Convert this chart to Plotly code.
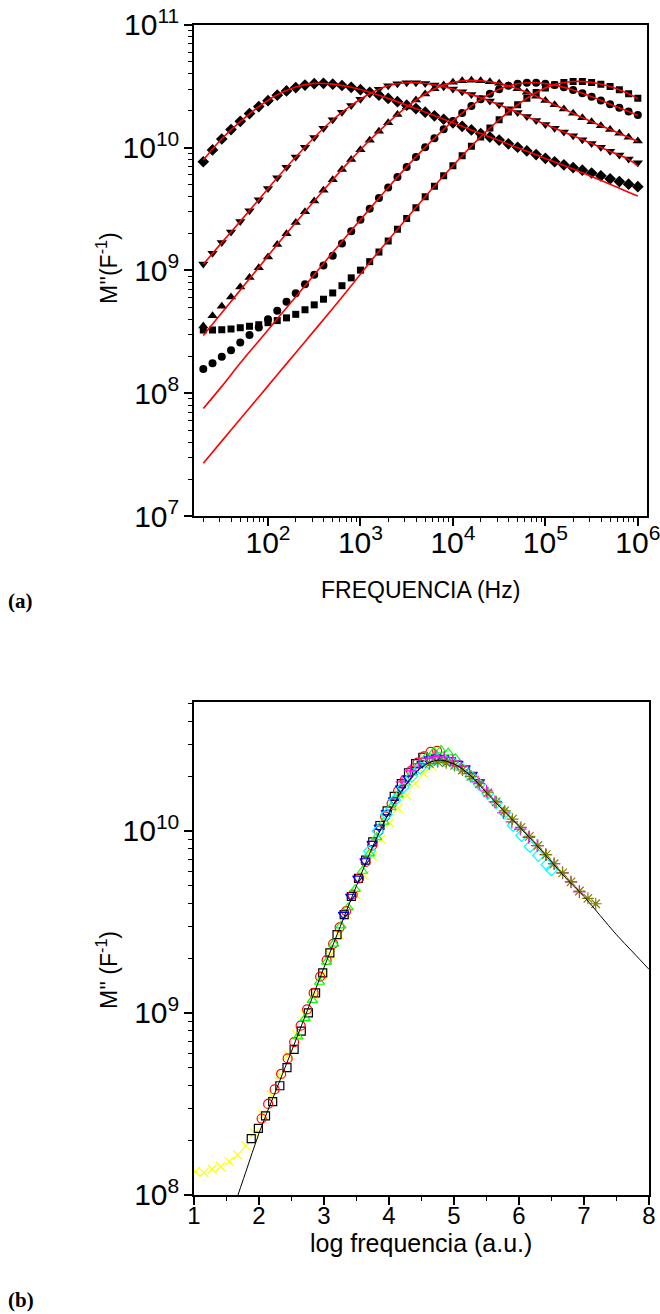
import plotly.graph_objects as go

# ---------------- (a) M'' versus frequency, five temperatures ----------------
log_freq = [1.3, 1.4, 1.5, 1.6, 1.7, 1.8, 1.9, 2.0, 2.1, 2.2, 2.3, 2.4, 2.5, 2.6, 2.7, 2.8,
            2.9, 3.0, 3.1, 3.2, 3.3, 3.4, 3.5, 3.6, 3.7, 3.8, 3.9, 4.0, 4.1, 4.2, 4.3, 4.4,
            4.5, 4.6, 4.7, 4.8, 4.9, 5.0, 5.1, 5.2, 5.3, 5.4, 5.5, 5.6, 5.7, 5.8, 5.9, 6.0]

# log10 of M'' (F^-1) for each temperature
log_m_square = [8.515, 8.515, 8.517, 8.523, 8.533, 8.545, 8.558, 8.575, 8.592, 8.614, 8.643, 8.68,
                8.72, 8.766, 8.817, 8.876, 8.94, 9.003, 9.072, 9.15, 9.24, 9.335, 9.424, 9.512,
                9.60, 9.686, 9.771, 9.854, 9.935, 10.013, 10.088, 10.16, 10.228, 10.292, 10.35, 10.404,
                10.45, 10.487, 10.514, 10.531, 10.539, 10.539, 10.532, 10.518, 10.498, 10.472, 10.44, 10.403]
log_m_circle = [8.198, 8.244, 8.298, 8.35, 8.413, 8.475, 8.535, 8.602, 8.673, 8.746, 8.815, 8.888,
                8.965, 9.04, 9.12, 9.22, 9.32, 9.413, 9.502, 9.59, 9.676, 9.761, 9.844, 9.925,
                10.003, 10.078, 10.15, 10.218, 10.282, 10.34, 10.394, 10.44, 10.477, 10.504, 10.521, 10.529,
                10.529, 10.522, 10.51, 10.492, 10.47, 10.443, 10.415, 10.385, 10.355, 10.325, 10.296, 10.267]
log_m_tri_up = [8.548, 8.632, 8.708, 8.785, 8.866, 8.942, 9.022, 9.11, 9.211, 9.30, 9.39, 9.478,
                9.566, 9.653, 9.739, 9.823, 9.905, 9.984, 10.061, 10.134, 10.204, 10.27, 10.332, 10.388,
                10.438, 10.48, 10.512, 10.534, 10.546, 10.55, 10.546, 10.538, 10.525, 10.505, 10.48, 10.452,
                10.42, 10.385, 10.35, 10.315, 10.28, 10.245, 10.212, 10.18, 10.148, 10.117, 10.086, 10.055]
log_m_tri_down = [9.053, 9.14, 9.227, 9.314, 9.40, 9.487, 9.577, 9.667, 9.755, 9.84, 9.925, 10.004,
                  10.083, 10.158, 10.228, 10.29, 10.345, 10.394, 10.44, 10.477, 10.504, 10.521, 10.529, 10.529,
                  10.523, 10.512, 10.497, 10.478, 10.457, 10.433, 10.407, 10.38, 10.35, 10.318, 10.286, 10.254,
                  10.222, 10.19, 10.159, 10.128, 10.097, 10.066, 10.035, 10.004, 9.972, 9.94, 9.909, 9.878]
log_m_diamond = [9.886, 9.982, 10.071, 10.148, 10.215, 10.278, 10.335, 10.383, 10.428, 10.463, 10.49, 10.51,
                 10.522, 10.525, 10.518, 10.507, 10.492, 10.473, 10.452, 10.428, 10.402, 10.375, 10.347, 10.319,
                 10.29, 10.26, 10.232, 10.203, 10.174, 10.145, 10.115, 10.087, 10.062, 10.032, 10.004, 9.974,
                 9.944, 9.914, 9.886, 9.861, 9.838, 9.817, 9.794, 9.771, 9.747, 9.724, 9.703, 9.683]

# fitted curves (log10 M'')
log_freq_fit = [1.3, 1.5, 1.7, 1.9, 2.1, 2.3, 2.5, 2.7, 2.9, 3.1, 3.3, 3.5, 3.7,
                3.9, 4.1, 4.3, 4.5, 4.7, 4.9, 5.1, 5.3, 5.5, 5.7, 5.9, 6.0]
fit_square = [7.43, 7.61, 7.79, 7.97, 8.15, 8.33, 8.51, 8.69, 8.875, 9.066, 9.246, 9.424, 9.60,
              9.771, 9.935, 10.088, 10.228, 10.35, 10.45, 10.514, 10.539, 10.532, 10.498, 10.44, 10.40]
fit_circle = [7.875, 8.056, 8.246, 8.426, 8.606, 8.786, 8.966, 9.146, 9.325, 9.502, 9.676, 9.844, 10.003,
              10.15, 10.282, 10.394, 10.477, 10.521, 10.529, 10.51, 10.47, 10.415, 10.355, 10.296, 10.265]
fit_tri_up = [8.47, 8.655, 8.84, 9.025, 9.211, 9.39, 9.566, 9.739, 9.905, 10.061, 10.204, 10.332, 10.438,
              10.512, 10.546, 10.546, 10.525, 10.48, 10.42, 10.35, 10.28, 10.212, 10.148, 10.086, 10.05]
fit_tri_down = [9.05, 9.227, 9.40, 9.577, 9.755, 9.925, 10.083, 10.228, 10.345, 10.44, 10.504, 10.529, 10.523,
                10.497, 10.457, 10.407, 10.35, 10.286, 10.222, 10.159, 10.097, 10.035, 9.97, 9.905, 9.85]
fit_diamond = [9.90, 10.073, 10.213, 10.335, 10.432, 10.495, 10.524, 10.518, 10.492, 10.452, 10.402, 10.347, 10.29,
               10.232, 10.174, 10.115, 10.058, 10.0, 9.942, 9.884, 9.826, 9.765, 9.702, 9.638, 9.607]

# ---------------- (b) master curve ----------------
# (log frequency in a.u., log10 M'')
x_yellow = [1.02, 1.15, 1.28, 1.41, 1.54, 1.67, 1.80, 1.93, 2.06, 2.19, 2.32, 2.45, 2.58, 2.71, 2.84,
            2.97, 3.10, 3.23, 3.36, 3.49, 3.62, 3.75, 3.88, 4.01, 4.14, 4.27, 4.40, 4.53, 4.66]
y_yellow = [8.128, 8.123, 8.141, 8.155, 8.183, 8.22, 8.27, 8.34, 8.44, 8.55, 8.66, 8.77, 8.88, 8.99, 9.10,
            9.21, 9.32, 9.43, 9.54, 9.65, 9.755, 9.86, 9.955, 10.045, 10.125, 10.195, 10.26, 10.315, 10.355]
x_black = [1.88, 1.99, 2.10, 2.21, 2.32, 2.43, 2.54, 2.65, 2.76, 2.87, 2.98, 3.09, 3.20, 3.31, 3.42,
           3.53, 3.64, 3.75, 3.86, 3.97, 4.08, 4.19, 4.30, 4.41, 4.52]
y_black = [8.31, 8.366, 8.434, 8.513, 8.60, 8.70, 8.80, 8.90, 9.00, 9.11, 9.22, 9.33, 9.43, 9.54, 9.64,
           9.74, 9.84, 9.94, 10.03, 10.11, 10.19, 10.26, 10.32, 10.37, 10.405]
x_red = [2.04, 2.14, 2.24, 2.34, 2.44, 2.54, 2.64, 2.74, 2.84, 2.94, 3.04, 3.14, 3.24, 3.34, 3.44,
         3.54, 3.64, 3.74, 3.84, 3.94, 4.04, 4.14, 4.24, 4.34, 4.44, 4.54, 4.64, 4.74]
y_red = [8.42, 8.50, 8.58, 8.665, 8.75, 8.84, 8.93, 9.02, 9.11, 9.20, 9.29, 9.38, 9.47, 9.56, 9.65,
         9.74, 9.83, 9.92, 10.00, 10.08, 10.15, 10.22, 10.28, 10.33, 10.375, 10.41, 10.435, 10.44]
x_green = [2.60, 2.71, 2.82, 2.93, 3.04, 3.15, 3.26, 3.37, 3.48, 3.59, 3.70, 3.81, 3.92, 4.03, 4.14,
           4.25, 4.36, 4.47, 4.58, 4.69, 4.80, 4.91, 5.02]
y_green = [8.87, 8.97, 9.07, 9.17, 9.28, 9.38, 9.48, 9.58, 9.68, 9.78, 9.875, 9.965, 10.05, 10.13, 10.20,
           10.265, 10.32, 10.37, 10.41, 10.435, 10.445, 10.43, 10.40]
x_blue = [3.30, 3.41, 3.52, 3.63, 3.74, 3.85, 3.96, 4.07, 4.18, 4.29, 4.40, 4.51, 4.62, 4.73, 4.84,
          4.95, 5.06, 5.17, 5.28, 5.39]
y_blue = [9.54, 9.64, 9.74, 9.835, 9.93, 10.02, 10.10, 10.17, 10.235, 10.29, 10.335, 10.37, 10.395, 10.405, 10.40,
          10.39, 10.37, 10.345, 10.31, 10.27]
x_cyan = [3.70, 3.83, 3.96, 4.09, 4.22, 4.35, 4.48, 4.61, 4.74, 4.87, 5.00, 5.13, 5.26, 5.39, 5.52,
          5.65, 5.78, 5.91, 6.04, 6.17, 6.30, 6.43, 6.50]
y_cyan = [9.89, 10.0, 10.09, 10.17, 10.24, 10.30, 10.345, 10.375, 10.39, 10.385, 10.368, 10.34, 10.30, 10.255, 10.205,
          10.155, 10.10, 10.03, 9.975, 9.915, 9.865, 9.815, 9.786]
x_magenta = [4.20, 4.33, 4.46, 4.59, 4.72, 4.85, 4.98, 5.11, 5.24, 5.37, 5.50, 5.63, 5.76, 5.89, 6.02,
             6.15, 6.28, 6.41, 6.54, 6.67, 6.80, 6.93]
y_magenta = [10.27, 10.33, 10.37, 10.40, 10.41, 10.405, 10.385, 10.355, 10.315, 10.27, 10.22, 10.16, 10.10, 10.05, 10.01,
             9.965, 9.92, 9.87, 9.82, 9.77, 9.72, 9.665]
x_olive = [4.62, 4.75, 4.88, 5.01, 5.13, 5.26, 5.39, 5.52, 5.65, 5.78, 5.90, 6.03, 6.16, 6.29, 6.42,
           6.54, 6.67, 6.80, 6.93, 7.06, 7.18]
y_olive = [10.37, 10.38, 10.375, 10.36, 10.335, 10.30, 10.26, 10.21, 10.16, 10.11, 10.065, 10.02, 9.97, 9.92, 9.87,
           9.82, 9.77, 9.72, 9.67, 9.63, 9.60]

x_master_fit = [1.6, 1.8, 2.0, 2.25, 2.5, 2.75, 3.0, 3.25, 3.5, 3.75, 4.0, 4.25, 4.5, 4.75,
                5.0, 5.25, 5.5, 5.75, 6.0, 6.25, 6.5, 6.75, 7.0, 7.25, 7.5, 7.75, 8.0]
y_master_fit = [7.92, 8.13, 8.34, 8.565, 8.79, 9.02, 9.25, 9.475, 9.70, 9.915, 10.10, 10.25, 10.35, 10.389,
                10.368, 10.306, 10.21, 10.115, 10.025, 9.93, 9.83, 9.73, 9.64, 9.535, 9.43, 9.335, 9.24]


def pw(values):
    return [10 ** v for v in values]


FONT = "Liberation Sans, Arial, sans-serif"
fig = go.Figure()

# panel (a): data markers
top_series = [
    (log_m_square, "square", 7),
    (log_m_circle, "circle", 8),
    (log_m_tri_up, "triangle-up", 9),
    (log_m_tri_down, "triangle-down", 9),
    (log_m_diamond, "diamond", 9),
]
freq = pw(log_freq)
for vals, sym, size in top_series:
    fig.add_trace(go.Scatter(x=freq, y=pw(vals), mode="markers", xaxis="x", yaxis="y",
                             marker=dict(symbol=sym, size=size, color="black", line=dict(width=0)),
                             showlegend=False))
# panel (a): fits
freq_fit = pw(log_freq_fit)
for vals in (fit_square, fit_circle, fit_tri_up, fit_tri_down, fit_diamond):
    fig.add_trace(go.Scatter(x=freq_fit, y=pw(vals), mode="lines", xaxis="x", yaxis="y",
                             line=dict(color="#ff0000", width=1.6, shape="spline"),
                             showlegend=False))

# panel (b): scaled data
bottom_series = [
    (x_yellow, y_yellow, "x-thin-open", "#ffff00", 9),
    (x_black, y_black, "square-open", "black", 8),
    (x_red, y_red, "circle-open", "#ff0000", 9),
    (x_green, y_green, "triangle-up-open", "#00ff00", 9),
    (x_blue, y_blue, "triangle-down-open", "#0000ff", 9),
    (x_cyan, y_cyan, "diamond-open", "#00ffff", 9),
    (x_magenta, y_magenta, "cross-thin-open", "#ff00ff", 9),
    (x_olive, y_olive, "asterisk-open", "#808000", 10),
]
for xs, ys, sym, col, size in bottom_series:
    fig.add_trace(go.Scatter(x=xs, y=pw(ys), mode="markers", xaxis="x2", yaxis="y2",
                             marker=dict(symbol=sym, size=size, color=col, line=dict(width=1.2, color=col)),
                             showlegend=False))
fig.add_trace(go.Scatter(x=x_master_fit, y=pw(y_master_fit), mode="lines", xaxis="x2", yaxis="y2",
                         line=dict(color="black", width=1, shape="spline"), showlegend=False))

axis_common = dict(showline=True, linecolor="black", linewidth=2, mirror=True,
                   ticks="outside", ticklen=8, tickwidth=1.5, tickcolor="black",
                   showgrid=False, zeroline=False, automargin=False, ticklabeloverflow="allow",
                   tickfont=dict(family=FONT, size=24, color="black"))
minor_log = dict(ticks="outside", ticklen=4, tickwidth=1.2, tickcolor="black", dtick="D1")

fig.update_layout(
    width=660, height=1314,
    margin=dict(l=0, r=0, t=0, b=0),
    paper_bgcolor="white", plot_bgcolor="white",
    showlegend=False,
    xaxis=dict(axis_common, type="log", range=[1.2, 6.097], domain=[0.294, 0.980], anchor="y",
               dtick=1, exponentformat="power", ticklabelstandoff=-8, minor=minor_log),
    yaxis=dict(axis_common, type="log", range=[7, 11], domain=[0.6073, 0.981], anchor="x",
               dtick=1, exponentformat="power", minor=minor_log),
    xaxis2=dict(axis_common, type="linear", range=[1, 8], domain=[0.294, 0.9833], anchor="y2",
                dtick=1, ticklabelstandoff=-10,
                minor=dict(ticks="outside", ticklen=4, tickwidth=1.2, tickcolor="black", dtick=0.5)),
    yaxis2=dict(axis_common, type="log", range=[8, 10.709], domain=[0.0906, 0.4658], anchor="x2",
                dtick=1, exponentformat="power", minor=minor_log),
)

titles = [
    ("FREQUENCIA (Hz)", 420, 590, 0, 23),
    ("M''(F<sup>-1</sup>)", 107, 268, -90, 23),
    ("log frequencia (a.u.)", 421, 1243, 0, 25),
    ("M'' (F<sup>-1</sup>)", 107, 970, -90, 23),
]
annotations = []
for text, px, py, ang, size in titles:
    annotations.append(dict(text=text, xref="paper", yref="paper",
                            x=px / 660, y=1 - py / 1314, xanchor="center", yanchor="middle",
                            textangle=ang, showarrow=False,
                            font=dict(family=FONT, size=size, color="black")))
for lab, yy in (("(a)", 601), ("(b)", 1300)):
    annotations.append(dict(text="<b>%s</b>" % lab, xref="paper", yref="paper",
                            x=6 / 660, y=1 - yy / 1314, xanchor="left", yanchor="middle",
                            showarrow=False,
                            font=dict(family="Liberation Serif, Times New Roman, serif", size=21, color="black")))
fig.update_layout(annotations=annotations)

fig.write_html("out.html")
